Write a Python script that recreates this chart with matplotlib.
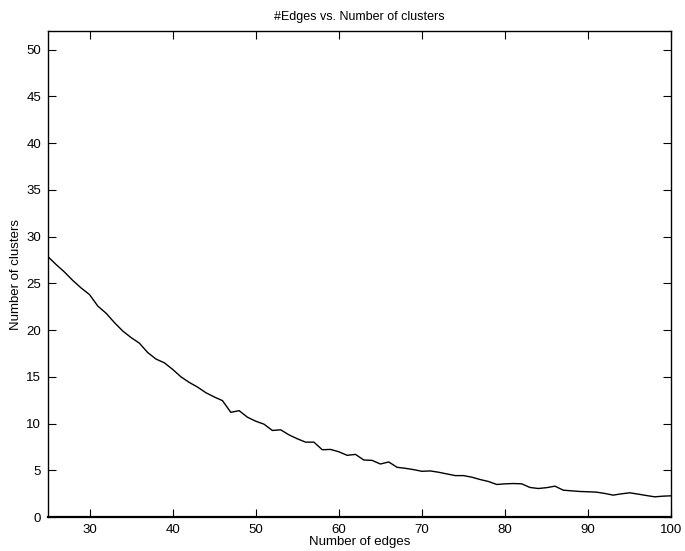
import matplotlib
matplotlib.use('Agg')
from matplotlib import pyplot as plt

plt.rcParams['font.family'] = ['Liberation Sans', 'DejaVu Sans']

# number of edges (x) and number of clusters (y)
edges = list(range(25, 101))
clusters = [27.86, 27.0, 26.2, 25.3, 24.5, 23.8, 22.57, 21.8, 20.8, 19.9,
            19.2, 18.6, 17.6, 16.9, 16.5, 15.8, 15.0, 14.4, 13.9, 13.3,
            12.85, 12.45, 11.2, 11.38, 10.68, 10.25, 9.93, 9.26, 9.33, 8.79,
            8.37, 8.01, 8.01, 7.2, 7.23, 6.98, 6.6, 6.7, 6.1, 6.06,
            5.67, 5.89, 5.32, 5.21, 5.07, 4.89, 4.93, 4.79, 4.61, 4.43,
            4.43, 4.26, 4.01, 3.8, 3.48, 3.55, 3.58, 3.55, 3.16, 3.05,
            3.14, 3.3, 2.87, 2.8, 2.73, 2.7, 2.66, 2.52, 2.34, 2.48,
            2.59, 2.45, 2.3, 2.16, 2.23, 2.27]

fig = plt.figure(figsize=(6.85, 5.51), dpi=100)
ax = fig.add_axes([0.070, 0.0617, 0.910, 0.882])

ax.plot(edges, clusters, color='black', linewidth=1.0)

ax.set_xlim(25, 100)
ax.set_ylim(0, 52)
ax.set_xticks(range(30, 101, 10))
ax.set_yticks(range(0, 51, 5))
ax.tick_params(direction='in', length=6, width=0.8, top=True, right=True,
               labelsize=9.5, pad=5)
for s in ax.spines.values():
    s.set_linewidth(1.0)
ax.spines['bottom'].set_linewidth(1.6)

ax.set_title('#Edges vs. Number of clusters', fontsize=9, pad=8)
ax.set_xlabel('Number of edges', fontsize=9.5, labelpad=0)
ax.set_ylabel('Number of clusters', fontsize=9.5, labelpad=3)

fig.savefig('out.png', dpi=100)
